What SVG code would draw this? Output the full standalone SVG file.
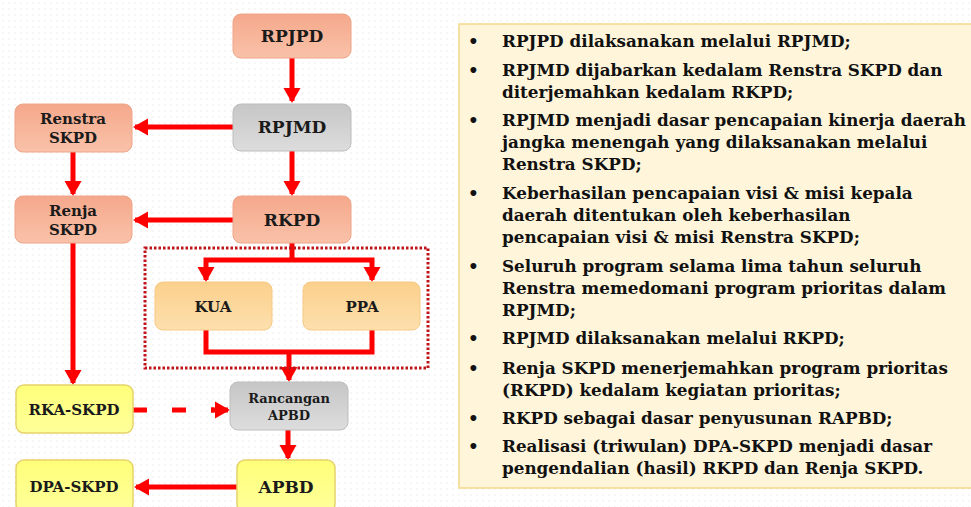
<svg xmlns="http://www.w3.org/2000/svg" width="971" height="507" viewBox="0 0 971 507">
<defs>
<pattern id="dots" width="6" height="6" patternUnits="userSpaceOnUse"><circle cx="3" cy="3" r="0.7" fill="#e6e6e6"/></pattern>
<linearGradient id="gSalmon" x1="0" y1="0" x2="0" y2="1"><stop offset="0" stop-color="#f5a88b"/><stop offset="1" stop-color="#f9c2a9"/></linearGradient>
<linearGradient id="gGray" x1="0" y1="0" x2="0" y2="1"><stop offset="0" stop-color="#c6c6c6"/><stop offset="1" stop-color="#dddddd"/></linearGradient>
<linearGradient id="gOrange" x1="0" y1="0" x2="0" y2="1"><stop offset="0" stop-color="#fbd08c"/><stop offset="1" stop-color="#fde0ad"/></linearGradient>
<linearGradient id="gYellow" x1="0" y1="0" x2="0" y2="1"><stop offset="0" stop-color="#ffff7a"/><stop offset="1" stop-color="#ffff9a"/></linearGradient>
<marker id="ah" markerWidth="4" markerHeight="4" refX="2.6" refY="2" orient="auto" markerUnits="strokeWidth" viewBox="0 0 4 4"><path d="M0,0.3 L3,2 L0,3.7 Z" fill="#ff0000"/></marker>
</defs>
<style>
.salmon{fill:url(#gSalmon);stroke:#eea58a;stroke-width:1}
.gray{fill:url(#gGray);stroke:#bdbdbd;stroke-width:1}
.orange{fill:url(#gOrange);stroke:#f6c986;stroke-width:1}
.yellow{fill:url(#gYellow);stroke:#e6d36a;stroke-width:1.5}
.lbl{font-family:"DejaVu Serif","Liberation Serif",serif;font-weight:bold;fill:#1a1a1a;text-anchor:middle}
.big{font-size:17px}
.mid{font-size:15px}
.sm{font-size:13px}
.c{fill:none;stroke:#ff0000;stroke-width:5}
.ca{fill:none;stroke:#ff0000;stroke-width:5;marker-end:url(#ah)}
.txt{font-family:"DejaVu Serif","Liberation Serif",serif;font-weight:bold;font-size:16.8px;fill:#111}
</style>
<rect width="971" height="507" fill="#ffffff"/>
<rect width="971" height="507" fill="url(#dots)"/>

<g id="connectors">
<line class="ca" x1="292" y1="58" x2="292" y2="101"/>
<line class="ca" x1="233" y1="127" x2="135" y2="127"/>
<line class="ca" x1="73" y1="152" x2="73" y2="194"/>
<line class="ca" x1="292" y1="151" x2="292" y2="194"/>
<line class="ca" x1="233" y1="220" x2="135" y2="220"/>
<line class="c" x1="292" y1="243" x2="292" y2="260"/>
<polyline class="c" points="206,272 206,260 372,260 372,272"/>
<line class="ca" x1="206" y1="268" x2="206" y2="280"/>
<line class="ca" x1="372" y1="268" x2="372" y2="280"/>
<polyline class="c" points="206,330 206,352 372,352 372,330"/>
<line class="ca" x1="289" y1="352" x2="289" y2="380"/>
<line class="ca" x1="73" y1="243" x2="73" y2="383"/>
<line class="c" x1="133" y1="410" x2="214" y2="410" stroke-dasharray="14 25"/>
<line class="ca" x1="211" y1="410" x2="228" y2="410"/>
<line class="ca" x1="288" y1="430" x2="288" y2="458"/>
<line class="ca" x1="237" y1="487" x2="136" y2="487"/>
</g>

<g id="group-box">
<rect x="145" y="248" width="283" height="120" fill="none" stroke="#c0141a" stroke-width="3" stroke-dasharray="2.5 2"/>
</g>

<g id="node-rpjpd">
<rect class="salmon" x="233" y="14" width="118" height="44" rx="8"/>
<text class="lbl big" x="292" y="42">RPJPD</text>
</g>
<g id="node-rpjmd">
<rect class="gray" x="233" y="104" width="118" height="47" rx="8"/>
<text class="lbl big" x="292" y="133">RPJMD</text>
</g>
<g id="node-renstra">
<rect class="salmon" x="15" y="104" width="117" height="48" rx="8"/>
<text class="lbl mid" x="73" y="124">Renstra</text>
<text class="lbl mid" x="73" y="143">SKPD</text>
</g>
<g id="node-rkpd">
<rect class="salmon" x="233" y="196" width="118" height="47" rx="8"/>
<text class="lbl big" x="292" y="226">RKPD</text>
</g>
<g id="node-renja">
<rect class="salmon" x="15" y="196" width="117" height="47" rx="8"/>
<text class="lbl mid" x="73" y="216">Renja</text>
<text class="lbl mid" x="73" y="235">SKPD</text>
</g>
<g id="node-kua">
<rect class="orange" x="155" y="282" width="117" height="48" rx="8"/>
<text class="lbl mid" x="213" y="312">KUA</text>
</g>
<g id="node-ppa">
<rect class="orange" x="303" y="282" width="117" height="48" rx="8"/>
<text class="lbl mid" x="362" y="312">PPA</text>
</g>
<g id="node-rancangan">
<rect class="gray" x="230" y="382" width="118" height="48" rx="8"/>
<text class="lbl sm" x="289" y="403">Rancangan</text>
<text class="lbl sm" x="289" y="420">APBD</text>
</g>
<g id="node-rka">
<rect class="yellow" x="16" y="385" width="117" height="48" rx="8"/>
<text class="lbl mid" x="74" y="415">RKA-SKPD</text>
</g>
<g id="node-apbd">
<rect class="yellow" x="237" y="460" width="98" height="52" rx="8"/>
<text class="lbl big" x="286" y="493">APBD</text>
</g>
<g id="node-dpa">
<rect class="yellow" x="16" y="460" width="117" height="52" rx="8"/>
<text class="lbl mid" x="74" y="492">DPA-SKPD</text>
</g>

<g id="notes">
<rect x="459" y="24" width="520" height="464" fill="#fff5da" stroke="#f3d98a" stroke-width="1.5"/>
<g class="txt">
<text x="468" y="47">•</text>
<text x="502" y="47">RPJPD dilaksanakan melalui RPJMD;</text>
<text x="468" y="76">•</text>
<text x="502" y="76">RPJMD dijabarkan kedalam Renstra SKPD dan</text>
<text x="502" y="98">diterjemahkan kedalam RKPD;</text>
<text x="468" y="126">•</text>
<text x="502" y="126">RPJMD menjadi dasar pencapaian kinerja daerah</text>
<text x="502" y="148">jangka menengah yang dilaksanakan melalui</text>
<text x="502" y="170">Renstra SKPD;</text>
<text x="468" y="199">•</text>
<text x="502" y="199">Keberhasilan pencapaian visi &amp; misi kepala</text>
<text x="502" y="221">daerah ditentukan oleh keberhasilan</text>
<text x="502" y="243">pencapaian visi &amp; misi Renstra SKPD;</text>
<text x="468" y="272">•</text>
<text x="502" y="272">Seluruh program selama lima tahun seluruh</text>
<text x="502" y="294">Renstra memedomani program prioritas dalam</text>
<text x="502" y="316">RPJMD;</text>
<text x="468" y="344">•</text>
<text x="502" y="344">RPJMD dilaksanakan melalui RKPD;</text>
<text x="468" y="374">•</text>
<text x="502" y="374">Renja SKPD menerjemahkan program prioritas</text>
<text x="502" y="396">(RKPD) kedalam kegiatan prioritas;</text>
<text x="468" y="424">•</text>
<text x="502" y="424">RKPD sebagai dasar penyusunan RAPBD;</text>
<text x="468" y="452">•</text>
<text x="502" y="452">Realisasi (triwulan) DPA-SKPD menjadi dasar</text>
<text x="502" y="474">pengendalian (hasil) RKPD dan Renja SKPD.</text>
</g>
</g>
</svg>
